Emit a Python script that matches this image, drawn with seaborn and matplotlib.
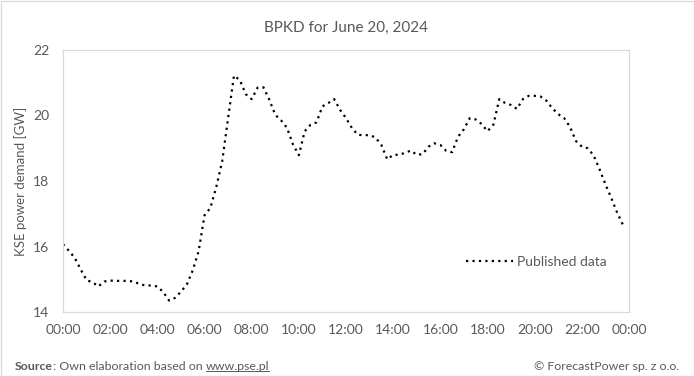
import numpy as np
import pandas as pd
import matplotlib
matplotlib.use('Agg')
import matplotlib.pyplot as plt
import seaborn as sns
from matplotlib.patches import Rectangle
from matplotlib.lines import Line2D

######### data (15-minute BPKD values, GW) #########
demand = [16.07, 15.87, 15.65, 15.30, 14.97, 14.91, 14.78, 14.93,
          14.96, 14.95, 14.95, 14.95, 14.93, 14.85, 14.81, 14.81,
          14.78, 14.61, 14.35, 14.43, 14.62, 14.84, 15.27, 15.85,
          16.95, 17.18, 17.82, 18.60, 19.92, 21.22, 21.08, 20.65,
          20.50, 20.85, 20.86, 20.48, 20.02, 19.85, 19.62, 19.12,
          18.79, 19.52, 19.72, 19.79, 20.28, 20.38, 20.50, 20.17,
          19.92, 19.62, 19.41, 19.40, 19.40, 19.33, 19.10, 18.66,
          18.80, 18.80, 18.86, 18.93, 18.80, 18.82, 19.05, 19.15,
          19.10, 18.92, 18.88, 19.35, 19.58, 19.92, 19.88, 19.74,
          19.52, 19.72, 20.50, 20.38, 20.32, 20.20, 20.50, 20.60,
          20.60, 20.58, 20.45, 20.22, 20.04, 19.92, 19.65, 19.22,
          19.05, 19.00, 18.78, 18.36, 17.90, 17.48, 17.03, 16.65]
hours = [i / 4 for i in range(len(demand))]
xtick_labels = ["00:00", "02:00", "04:00", "06:00", "08:00", "10:00", "12:00",
                "14:00", "16:00", "18:00", "20:00", "22:00", "00:00"]
yticks = [14, 16, 18, 20, 22]
series_name = "Published data"
title = "BPKD for June 20, 2024"
ylabel = "KSE power demand [GW]"

df = pd.DataFrame({'hour': hours, 'demand': demand})

sns.set_theme(style='white')
plt.rcParams['font.family'] = ['Lato', 'DejaVu Sans']
txt = '#595959'
border = '#D9D9D9'

fig = plt.figure(figsize=(6.94, 3.76), dpi=100)
ax = fig.add_axes([63/694, 1-312/376, 566/694, 262/376])

sns.lineplot(data=df, x='hour', y='demand', ax=ax, color='black',
             linewidth=1.6, linestyle=(0, (1, 1.9)), label=series_name)

ax.set_xlim(0, 24)
ax.set_ylim(14, 22)
ax.set_xticks(range(0, 25, 2))
ax.set_xticklabels(xtick_labels)
ax.set_yticks(yticks)
ax.tick_params(length=0, labelsize=10, colors=txt)
ax.tick_params(axis='y', pad=10)
ax.tick_params(axis='x', pad=9)
ax.set_xlabel('')
ax.set_ylabel(ylabel, fontsize=9.5, color=txt)
ax.yaxis.set_label_coords(-0.064, 0.5)
for s in ax.spines.values():
    s.set_color(border)
    s.set_linewidth(0.9)

ax.set_title(title, fontsize=11, color=txt, pad=13)

leg = ax.legend(loc='center left', bbox_to_anchor=(0.712, 0.19), frameon=False,
                fontsize=10, handlelength=3.4, handletextpad=0.25, borderpad=0,
                borderaxespad=0)
for t in leg.get_texts():
    t.set_color(txt)

# outer chart border
fig.patches.append(Rectangle((0.5/694, 0.5/376), 1-1/694, 1-1/376,
                             transform=fig.transFigure, fill=False,
                             ec=border, lw=0.9))

# footer
fy = 1 - 366/376
fs = 8.9
t1 = fig.text(15/694, fy, "Source", fontsize=fs, color=txt, weight='bold', va='center')
fig.canvas.draw()
r = fig.canvas.get_renderer()
bb = t1.get_window_extent(r)
t2 = fig.text(bb.x1/694, fy, ": Own elaboration based on ", fontsize=fs, color=txt, va='center')
fig.canvas.draw()
bb = t2.get_window_extent(r)
t3 = fig.text(bb.x1/694, fy, "www.pse.pl", fontsize=fs, color=txt, va='center')
fig.canvas.draw()
bb = t3.get_window_extent(r)
fig.add_artist(Line2D([bb.x0/694, bb.x1/694], [(bb.y0+1)/376]*2,
                      transform=fig.transFigure, color=txt, lw=0.7))
fig.text(679/694, fy, "\u00a9 ForecastPower sp. z o.o.", fontsize=fs, color=txt,
         ha='right', va='center')

fig.savefig('out.png', dpi=100)
